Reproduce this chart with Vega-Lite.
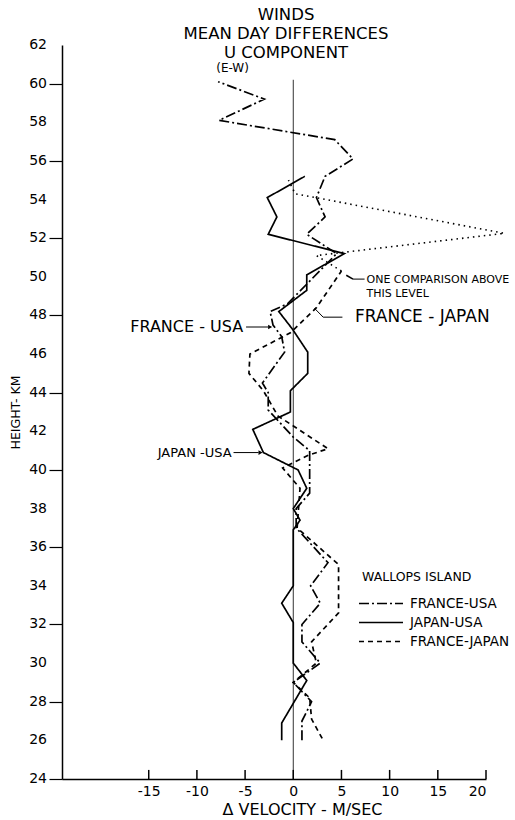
{
  "$schema": "https://vega.github.io/schema/vega-lite/v6.json",
  "autosize": "none",
  "width": 424,
  "height": 734,
  "padding": {"left": 62, "top": 45, "right": 29, "bottom": 41},
  "background": "white",
  "config": {
    "font": "DejaVu Sans",
    "view": {"stroke": null},
    "axis": {"grid": false, "domainColor": "black", "tickColor": "black", "labelColor": "black", "titleColor": "black", "titleFontWeight": "normal", "labelOverlap": false}
  },
  "title": {
    "text": ["WINDS", "MEAN DAY DIFFERENCES", "U COMPONENT"],
    "fontSize": 16.5,
    "fontWeight": "normal",
    "lineHeight": 19,
    "anchor": "middle",
    "frame": "group",
    "offset": -23,
    "dx": 12,
    "color": "black"
  },
  "data": {"values": [{}]},
  "datasets": {
    "profiles": [
      {"pair": "FRANCE-USA", "h": 60.1, "dv": -7.8},
      {"pair": "FRANCE-USA", "h": 59.2, "dv": -3.0},
      {"pair": "FRANCE-USA", "h": 58.1, "dv": -7.7},
      {"pair": "FRANCE-USA", "h": 57.1, "dv": 4.3},
      {"pair": "FRANCE-USA", "h": 56.1, "dv": 6.2},
      {"pair": "FRANCE-USA", "h": 55.2, "dv": 3.3},
      {"pair": "FRANCE-USA", "h": 54.1, "dv": 2.4},
      {"pair": "FRANCE-USA", "h": 53.1, "dv": 3.3},
      {"pair": "FRANCE-USA", "h": 52.2, "dv": 1.4},
      {"pair": "FRANCE-USA", "h": 51.2, "dv": 4.5},
      {"pair": "FRANCE-USA", "h": 48.6, "dv": -0.6},
      {"pair": "FRANCE-USA", "h": 48.2, "dv": -2.4},
      {"pair": "FRANCE-USA", "h": 47.5, "dv": -2.1},
      {"pair": "FRANCE-USA", "h": 46.9, "dv": -1.2},
      {"pair": "FRANCE-USA", "h": 46.1, "dv": -0.9},
      {"pair": "FRANCE-USA", "h": 44.5, "dv": -3.2},
      {"pair": "FRANCE-USA", "h": 44.0, "dv": -2.6},
      {"pair": "FRANCE-USA", "h": 43.1, "dv": -2.6},
      {"pair": "FRANCE-USA", "h": 41.7, "dv": 0.0},
      {"pair": "FRANCE-USA", "h": 41.0, "dv": 1.7},
      {"pair": "FRANCE-USA", "h": 38.8, "dv": 1.7},
      {"pair": "FRANCE-USA", "h": 38.0, "dv": 0.3},
      {"pair": "FRANCE-USA", "h": 37.0, "dv": 0.3},
      {"pair": "FRANCE-USA", "h": 35.2, "dv": 3.6},
      {"pair": "FRANCE-USA", "h": 34.0, "dv": 1.8},
      {"pair": "FRANCE-USA", "h": 33.1, "dv": 2.8},
      {"pair": "FRANCE-USA", "h": 32.0, "dv": 0.9},
      {"pair": "FRANCE-USA", "h": 31.1, "dv": 0.9},
      {"pair": "FRANCE-USA", "h": 30.0, "dv": 2.8},
      {"pair": "FRANCE-USA", "h": 29.0, "dv": 0.0},
      {"pair": "FRANCE-USA", "h": 28.0, "dv": 1.9},
      {"pair": "FRANCE-USA", "h": 27.0, "dv": 0.9},
      {"pair": "FRANCE-USA", "h": 26.0, "dv": 0.9},

      {"pair": "JAPAN-USA", "h": 55.2, "dv": 1.2},
      {"pair": "JAPAN-USA", "h": 54.1, "dv": -2.7},
      {"pair": "JAPAN-USA", "h": 53.1, "dv": -1.7},
      {"pair": "JAPAN-USA", "h": 52.2, "dv": -2.6},
      {"pair": "JAPAN-USA", "h": 51.2, "dv": 5.3},
      {"pair": "JAPAN-USA", "h": 50.1, "dv": 1.4},
      {"pair": "JAPAN-USA", "h": 49.3, "dv": 1.4},
      {"pair": "JAPAN-USA", "h": 48.2, "dv": -1.5},
      {"pair": "JAPAN-USA", "h": 47.3, "dv": -0.1},
      {"pair": "JAPAN-USA", "h": 46.1, "dv": 1.5},
      {"pair": "JAPAN-USA", "h": 45.0, "dv": 1.5},
      {"pair": "JAPAN-USA", "h": 44.1, "dv": -0.3},
      {"pair": "JAPAN-USA", "h": 43.0, "dv": -0.3},
      {"pair": "JAPAN-USA", "h": 42.1, "dv": -4.2},
      {"pair": "JAPAN-USA", "h": 40.9, "dv": -3.1},
      {"pair": "JAPAN-USA", "h": 40.0, "dv": 0.5},
      {"pair": "JAPAN-USA", "h": 39.05, "dv": 1.4},
      {"pair": "JAPAN-USA", "h": 38.0, "dv": 0.0},
      {"pair": "JAPAN-USA", "h": 37.4, "dv": 0.7},
      {"pair": "JAPAN-USA", "h": 36.9, "dv": 0.0},
      {"pair": "JAPAN-USA", "h": 34.0, "dv": 0.0},
      {"pair": "JAPAN-USA", "h": 33.1, "dv": -1.2},
      {"pair": "JAPAN-USA", "h": 32.1, "dv": 0.0},
      {"pair": "JAPAN-USA", "h": 30.0, "dv": 0.0},
      {"pair": "JAPAN-USA", "h": 29.1, "dv": 1.4},
      {"pair": "JAPAN-USA", "h": 26.9, "dv": -1.2},
      {"pair": "JAPAN-USA", "h": 26.0, "dv": -1.2},

      {"pair": "FRANCE-JAPAN", "h": 50.3, "dv": 5.0},
      {"pair": "FRANCE-JAPAN", "h": 48.4, "dv": 2.4},
      {"pair": "FRANCE-JAPAN", "h": 47.1, "dv": -0.3},
      {"pair": "FRANCE-JAPAN", "h": 46.0, "dv": -4.5},
      {"pair": "FRANCE-JAPAN", "h": 45.0, "dv": -4.6},
      {"pair": "FRANCE-JAPAN", "h": 44.1, "dv": -3.1},
      {"pair": "FRANCE-JAPAN", "h": 42.8, "dv": -1.6},
      {"pair": "FRANCE-JAPAN", "h": 41.1, "dv": 3.6},
      {"pair": "FRANCE-JAPAN", "h": 40.75, "dv": 1.5},
      {"pair": "FRANCE-JAPAN", "h": 40.1, "dv": -1.1},
      {"pair": "FRANCE-JAPAN", "h": 39.05, "dv": 0.7},
      {"pair": "FRANCE-JAPAN", "h": 37.0, "dv": 0.4},
      {"pair": "FRANCE-JAPAN", "h": 35.1, "dv": 4.7},
      {"pair": "FRANCE-JAPAN", "h": 32.6, "dv": 4.7},
      {"pair": "FRANCE-JAPAN", "h": 31.1, "dv": 1.9},
      {"pair": "FRANCE-JAPAN", "h": 30.0, "dv": 2.4},
      {"pair": "FRANCE-JAPAN", "h": 29.0, "dv": 0.0},
      {"pair": "FRANCE-JAPAN", "h": 28.2, "dv": 1.7},
      {"pair": "FRANCE-JAPAN", "h": 27.1, "dv": 1.9},
      {"pair": "FRANCE-JAPAN", "h": 26.1, "dv": 3.0}
    ],
    "singleComparison": [
      {"h": 50.3, "dv": 5.0},
      {"h": 51.1, "dv": 2.4},
      {"h": 52.25, "dv": 21.9},
      {"h": 54.3, "dv": 0.2},
      {"h": 55.0, "dv": -0.5}
    ],
    "xTicks": [
      {"t": -15}, {"t": -10}, {"t": -5}, {"t": 0}, {"t": 5}, {"t": 10}, {"t": 15}, {"t": 20}
    ],
    "heights": [
      {"km": 24}, {"km": 26}, {"km": 28}, {"km": 30}, {"km": 32}, {"km": 34}, {"km": 36}, {"km": 38}, {"km": 40}, {"km": 42},
      {"km": 44}, {"km": 46}, {"km": 48}, {"km": 50}, {"km": 52}, {"km": 54}, {"km": 56}, {"km": 58}, {"km": 60}, {"km": 62}
    ]
  },
  "layer": [
    {
      "mark": {"type": "rule", "color": "#333", "strokeWidth": 1},
      "encoding": {
        "x": {
          "datum": 0, "type": "quantitative",
          "scale": {"domain": [-24, 20], "nice": false, "zero": false},
          "axis": {
            "values": [-15, -10, -5, 0, 5, 10, 15, 20],
            "labelExpr": "datum.value < 0 ? '-' + abs(datum.value) : '' + datum.value",
            "title": "Δ VELOCITY - M/SEC",
            "titleFontSize": 16,
            "titleX": 240,
            "titlePadding": 3,
            "labelFontSize": 14,
            "labelPadding": 5,
            "labelOverlap": false,
            "ticks": false,
            "tickSize": 0,
            "domainWidth": 1.5
          }
        },
        "y": {
          "datum": 24, "type": "quantitative",
          "scale": {"domain": [24, 62], "nice": false, "zero": false},
          "axis": {
            "values": [24, 26, 28, 30, 32, 34, 36, 38, 40, 42, 44, 46, 48, 50, 52, 54, 56, 58, 60, 62],
            "title": "HEIGHT- KM",
            "titleFontSize": 12.5,
            "titlePadding": 26,
            "labels": false,
            "tickSize": 13,
            "domainWidth": 1.5,
            "tickWidth": 1.2
          }
        },
        "y2": {"datum": 60.2}
      }
    },
    {
      "data": {"name": "heights"},
      "mark": {"type": "text", "fontSize": 14, "align": "right", "baseline": "middle", "color": "black", "dx": -15},
      "encoding": {
        "x": {"datum": -24, "type": "quantitative"},
        "y": {"field": "km", "type": "quantitative"},
        "text": {"field": "km", "type": "quantitative"}
      }
    },
    {
      "data": {"name": "xTicks"},
      "mark": {"type": "rule", "color": "black", "strokeWidth": 1.5},
      "encoding": {
        "x": {"field": "t", "type": "quantitative"},
        "y": {"datum": 24, "type": "quantitative"},
        "y2": {"datum": 24.47}
      }
    },
    {
      "data": {"name": "profiles"},
      "mark": {"type": "line", "color": "black", "strokeWidth": 1.7, "strokeJoin": "miter"},
      "encoding": {
        "x": {"field": "dv", "type": "quantitative"},
        "y": {"field": "h", "type": "quantitative"},
        "order": {"field": "h", "type": "quantitative"},
        "detail": {"field": "pair"},
        "strokeDash": {
          "field": "pair", "type": "nominal",
          "scale": {
            "domain": ["FRANCE-USA", "JAPAN-USA", "FRANCE-JAPAN"],
            "range": [[10, 3, 2, 3], [1, 0], [5, 4]]
          },
          "legend": {
            "title": "WALLOPS ISLAND",
            "orient": "none",
            "legendX": 300,
            "legendY": 526,
            "titleFontSize": 12.5,
            "titleFontWeight": "normal",
            "titleColor": "black",
            "titlePadding": 8,
            "labelFontSize": 13.5,
            "labelColor": "black",
            "labelOffset": 24,
            "symbolType": "M-1.364,0H2.636",
            "symbolSize": 484,
            "symbolStrokeColor": "black",
            "symbolStrokeWidth": 1.5,
            "rowPadding": 0
          }
        }
      }
    },
    {
      "data": {"name": "singleComparison"},
      "mark": {"type": "line", "color": "black", "strokeWidth": 1.6, "strokeDash": [1.5, 4]},
      "encoding": {
        "x": {"field": "dv", "type": "quantitative"},
        "y": {"field": "h", "type": "quantitative"},
        "order": {"field": "h", "type": "quantitative"}
      }
    },
    {
      "mark": {"type": "text", "fontSize": 12, "align": "center", "baseline": "middle", "color": "black", "text": "(E-W)"},
      "encoding": {"x": {"datum": -6.3}, "y": {"datum": 60.8}}
    },
    {
      "mark": {"type": "text", "fontSize": 11, "align": "left", "baseline": "middle", "color": "black", "lineHeight": 14, "text": ["ONE COMPARISON ABOVE", "THIS LEVEL"]},
      "encoding": {"x": {"datum": 7.6}, "y": {"datum": 49.84}}
    },
    {
      "mark": {"type": "rule", "color": "black", "strokeWidth": 1},
      "encoding": {"x": {"datum": 6.2}, "x2": {"datum": 7.4}, "y": {"datum": 49.88}}
    },
    {
      "mark": {"type": "rule", "color": "black", "strokeWidth": 1.5},
      "encoding": {"x": {"datum": 5.5}, "x2": {"datum": 6.2}, "y": {"datum": 50.08}, "y2": {"datum": 49.88}}
    },
    {
      "mark": {"type": "text", "fontSize": 17, "align": "left", "baseline": "middle", "color": "black", "text": "FRANCE - JAPAN"},
      "encoding": {"x": {"datum": 6.4}, "y": {"datum": 47.9}}
    },
    {
      "mark": {"type": "rule", "color": "black", "strokeWidth": 1},
      "encoding": {"x": {"datum": 3.1}, "x2": {"datum": 5.1}, "y": {"datum": 47.91}}
    },
    {
      "mark": {"type": "rule", "color": "black", "strokeWidth": 1},
      "encoding": {"x": {"datum": 2.2}, "x2": {"datum": 3.1}, "y": {"datum": 48.37}, "y2": {"datum": 47.91}}
    },
    {
      "mark": {"type": "text", "fontSize": 16, "align": "right", "baseline": "middle", "color": "black", "text": "FRANCE - USA"},
      "encoding": {"x": {"datum": -5.2}, "y": {"datum": 47.4}}
    },
    {
      "mark": {"type": "rule", "color": "black", "strokeWidth": 1},
      "encoding": {"x": {"datum": -4.9}, "x2": {"datum": -2.6}, "y": {"datum": 47.4}}
    },
    {
      "mark": {"type": "point", "shape": "triangle-right", "filled": true, "color": "black", "size": 22, "opacity": 1},
      "encoding": {"x": {"datum": -2.4}, "y": {"datum": 47.4}}
    },
    {
      "mark": {"type": "text", "fontSize": 13, "align": "right", "baseline": "middle", "color": "black", "text": "JAPAN -USA"},
      "encoding": {"x": {"datum": -6.4}, "y": {"datum": 40.9}}
    },
    {
      "mark": {"type": "rule", "color": "black", "strokeWidth": 1},
      "encoding": {"x": {"datum": -6.2}, "x2": {"datum": -3.6}, "y": {"datum": 40.9}}
    },
    {
      "mark": {"type": "point", "shape": "triangle-right", "filled": true, "color": "black", "size": 22, "opacity": 1},
      "encoding": {"x": {"datum": -3.4}, "y": {"datum": 40.9}}
    }
  ]
}
